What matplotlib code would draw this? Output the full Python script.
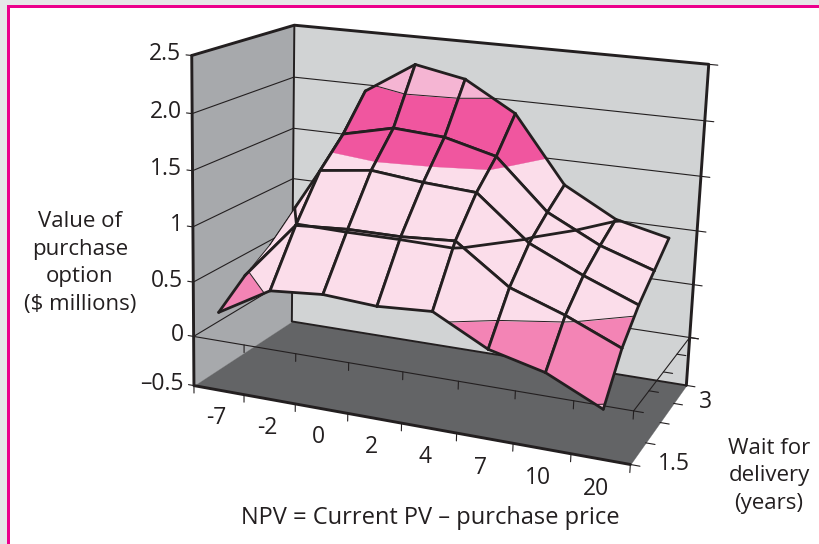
import matplotlib
matplotlib.use("Agg")
import matplotlib.pyplot as plt
import numpy as np
from mpl_toolkits.mplot3d import proj3d
from mpl_toolkits.mplot3d.art3d import Poly3DCollection

plt.rcParams['font.family'] = ['Open Sans', 'DejaVu Sans']

npv_labels = ['-7', '-2', '0', '2', '4', '7', '10', '20']
wait_years = [1.5, 2, 2.5, 3, 3.5]
wait_labels = {1.5: '1.5', 3: '3'}
z_ticks = [0, 0.5, 1, 1.5, 2, 2.5]
z_labels = ['0', '0.5', '1', '1.5', '2.0', '2.5']

# option value, one list per waiting time, one value per NPV category
value_15 = [0.26, 0.53, 0.57, 0.54, 0.57, 0.32, 0.20, -0.03]
value_20 = [0.46, 0.99, 1.02, 1.02, 1.05, 0.71, 0.54, 0.33]
value_25 = [0.62, 1.38, 1.44, 1.39, 1.36, 0.97, 0.75, 0.56]
value_30 = [0.81, 1.62, 1.73, 1.70, 1.58, 1.13, 0.89, 0.73]
value_35 = [1.00, 1.94, 2.24, 2.15, 1.88, 1.27, 1.01, 0.90]

band_edges = [-1, 0, 0.5, 1.5, 2, 3]
band_colors = ['#F9C4DB', '#F384B5', '#FBDDEA', '#F0569F', '#F5B5D3']
# contour lines between the bands (level, width)
contours = [(0, 0.7), (0.5, 0.7), (1, 2.0), (2, 0.7)]

DARK = '#231F20'
W, H = 819, 544
floor_z = -0.46
GRID_LW = 2.0
THIN_LW = 0.6

fig = plt.figure(figsize=(W / 100, H / 100), dpi=100, facecolor='#E6E7E8')
fig.add_artist(plt.Rectangle((7 / W, 0), 1, 1 - 5 / H, fc='#EC008C', lw=0, zorder=-3))
fig.add_artist(plt.Rectangle((9.5 / W, 0), 1, 1 - 8 / H, fc='white', lw=0, zorder=-2))

# square axes as wide as the figure, the 3d axes forces a square box anyway
ax = fig.add_axes([0, (H - W) / 2 / H, 1, W / H], projection='3d', computed_zorder=False)
ax.set_axis_off()
ax.patch.set_visible(False)

x_lo, x_hi = -0.5, len(npv_labels) - 0.5
y_lo, y_hi = 0, len(wait_years) - 1

# the picture has its own perspective: fit a camera to where the box corners are
box_world = [(x_lo, y_lo, 2.5), (x_lo, y_hi, 2.5), (x_hi, y_hi, 2.5),
             (x_lo, y_lo, 0), (x_hi, y_lo, 0), (x_lo, y_hi, 0), (x_hi, y_hi, 0)]
box_pixel = [(193, 55), (293, 25), (709, 65),
             (193, 335), (633, 413), (293, 279), (690, 335)]
view_xy = ax.transData.inverted().transform([(px, H - py) for px, py in box_pixel])
A, b = [], []
for (wx, wy, wz), (vx, vy) in zip(box_world, view_xy):
    A.append([wx, wy, wz, 1, 0, 0, 0, 0, -vx * wx, -vx * wy, -vx * wz])
    A.append([0, 0, 0, 0, wx, wy, wz, 1, -vy * wx, -vy * wy, -vy * wz])
    b += [vx, vy]
p = np.linalg.lstsq(np.array(A), np.array(b), rcond=None)[0]
# third row is only depth, keep it negative or lines get dropped
M = np.array([p[0:4], p[4:8], [-0.64, 1, 0, -10], [p[8], p[9], p[10], 1]])
ax.get_proj = lambda: M


def wall(corners, color, zorder=1):
    ax.add_collection3d(Poly3DCollection([corners], facecolors=color, edgecolors=color,
                                         linewidths=0.2, zorder=zorder))


def line(xs, ys, zs, lw, zorder=3):
    ax.plot(xs, ys, zs, color=DARK, lw=lw, zorder=zorder, solid_capstyle='round')


def label3d(x, y, z, s, ha='center', size=16.5):
    vx, vy, _ = proj3d.proj_transform(x, y, z, M)
    fx, fy = fig.transFigure.inverted().transform(ax.transData.transform((vx, vy)))
    fig.text(fx, fy, s, ha=ha, va='center', fontsize=size, color=DARK)


def clip(poly, level, keep_above):
    out = []
    for i, a in enumerate(poly):
        c = poly[(i + 1) % len(poly)]
        a_in = a[2] >= level if keep_above else a[2] <= level
        c_in = c[2] >= level if keep_above else c[2] <= level
        if a_in:
            out.append(a)
        if a_in != c_in:
            t = (level - a[2]) / (c[2] - a[2])
            out.append(tuple(a[k] + t * (c[k] - a[k]) for k in range(3)))
    return out


def crossings(poly, level):
    pts = []
    for i, a in enumerate(poly):
        c = poly[(i + 1) % len(poly)]
        if (a[2] - level) * (c[2] - level) < 0:
            t = (level - a[2]) / (c[2] - a[2])
            pts.append(tuple(a[k] + t * (c[k] - a[k]) for k in range(3)))
    return pts


# walls and floor
wall([(x_lo, y_lo, floor_z), (x_lo, y_hi, floor_z), (x_lo, y_hi, 2.5), (x_lo, y_lo, 2.5)], '#A7A9AC')
wall([(x_lo, y_hi, floor_z), (x_hi, y_hi, floor_z), (x_hi, y_hi, 2.5), (x_lo, y_hi, 2.5)], '#D1D3D4')
wall([(x_lo, y_lo, floor_z), (x_hi, y_lo, floor_z), (x_hi, y_hi, floor_z), (x_lo, y_hi, floor_z)], '#636466')

# grid lines on the walls, with their ticks
for z in z_ticks:
    line([x_lo, x_lo, x_hi, x_hi + 0.16], [y_lo, y_hi, y_hi, y_hi], [z] * 4, 0.8)
    line([x_lo - 0.11, x_lo], [y_lo, y_lo], [z, z], 0.8)
line([x_lo - 0.11, x_lo], [y_lo, y_lo], [floor_z, floor_z], 0.8)

# axis lines at the value 0 and ticks at 0 and on the floor
line([x_lo, x_hi, x_hi], [y_lo, y_lo, y_hi], [0, 0, 0], 0.8)
for i in range(len(npv_labels) + 1):
    line([x_lo + i, x_lo + i], [y_lo, y_lo], [0, -0.07], 0.8)
    line([x_lo + i, x_lo + i], [y_lo, y_lo], [floor_z, floor_z - 0.07], 0.8)
for i in range(len(wait_years)):
    line([x_hi, x_hi + 0.16], [i, i], [0, 0], 0.8)
    line([x_hi, x_hi + 0.16], [i, i], [floor_z, floor_z], 0.8)

# box outline
line([x_lo, x_lo, x_hi, x_hi], [y_lo, y_hi, y_hi, y_hi], [2.5, 2.5, 2.5, floor_z], 2.1)
line([x_lo, x_lo, x_hi], [y_lo, y_lo, y_lo], [2.5, floor_z, floor_z], 2.1)
line([x_lo, x_lo, x_hi], [y_hi, y_hi, y_hi], [2.5, floor_z, floor_z], 1.4)

# surface, painted from the back left to the front right
values = [value_15, value_20, value_25, value_30, value_35]
z_order = 10
for r in range(len(wait_years) - 2, -1, -1):
    for c in range(len(npv_labels) - 1):
        quad = [(c, r, values[r][c]), (c + 1, r, values[r][c + 1]),
                (c + 1, r + 1, values[r + 1][c + 1]), (c, r + 1, values[r + 1][c])]
        for i, color in enumerate(band_colors):
            piece = clip(quad, band_edges[i], True)
            if piece:
                piece = clip(piece, band_edges[i + 1], False)
            if len(piece) >= 3:
                wall(piece, color, zorder=z_order)
        for level, width in contours:
            pts = crossings(quad, level)
            for k in range(0, len(pts) - 1, 2):
                line([pts[k][0], pts[k + 1][0]], [pts[k][1], pts[k + 1][1]],
                     [pts[k][2], pts[k + 1][2]], width, zorder=z_order + 0.5)
        for k in range(4):
            q0, q1 = quad[k], quad[(k + 1) % 4]
            # the low left column only shows as a thin rim behind the ridge,
            # apart from the part of each cross line above the value 1
            rim = c == 0 and r >= 1 and not (k == 0 and r == 1)
            if rim and k == 2 and q0[2] > 1 > q1[2]:
                piece = clip([q0, q1], 1, True)
                line([q[0] for q in piece[:2]], [q[1] for q in piece[:2]], [q[2] for q in piece[:2]],
                     GRID_LW, zorder=z_order + 0.6)
            line([q0[0], q1[0]], [q0[1], q1[1]], [q0[2], q1[2]], THIN_LW if rim and k != 1 else GRID_LW,
                 zorder=z_order + 0.55 if rim else z_order + 0.6)
        z_order += 1

# tick labels
for z, label in zip(z_ticks, z_labels):
    label3d(x_lo - 0.2, y_lo, z, label, ha='right')
label3d(x_lo - 0.2, y_lo, floor_z, '\u20130.5', ha='right')
for i, label in enumerate(npv_labels):
    label3d(i - 0.05, y_lo, floor_z - 0.27, label)
for i, years in enumerate(wait_years):
    if years in wait_labels:
        label3d(x_hi + 0.45, i, floor_z + 0.05, wait_labels[years], ha='left')

# axis titles
fig.text(80 / W, 1 - 263 / H, 'Value of\npurchase\noption\n($ millions)', ha='center', va='center',
         fontsize=16, color=DARK, linespacing=1.42)
fig.text(769 / W, 1 - 476 / H, 'Wait for\ndelivery\n(years)', ha='center', va='center',
         fontsize=16, color=DARK, linespacing=1.42)
fig.text(430 / W, 1 - 518 / H, 'NPV = Current PV \u2013 purchase price', ha='center', va='center',
         fontsize=17, color=DARK)

fig.savefig('out.png', dpi=100)
